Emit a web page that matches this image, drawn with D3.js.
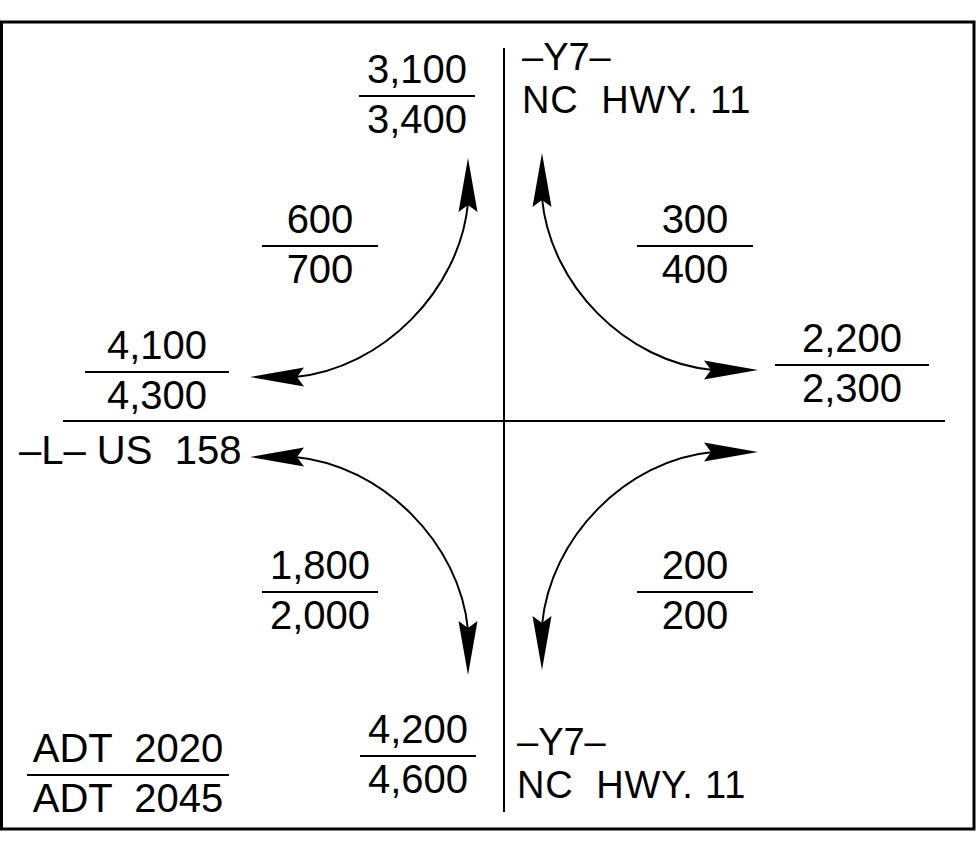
<!DOCTYPE html>
<html>
<head>
<meta charset="utf-8">
<script src="https://cdn.jsdelivr.net/npm/d3@7"></script>
<style>
  html, body { margin: 0; padding: 0; background: #fff; }
  svg { display: block; }
  text { font-family: "Liberation Sans", Arial, sans-serif; fill: #000; white-space: pre; }
</style>
</head>
<body>
<svg id="chart" width="980" height="846"></svg>
<script>
// ADT volumes on each leg: 2020 over 2045
const legs = ["N", "E", "S", "W"];
const leg2020 = [3100, 2200, 4200, 4100];
const leg2045 = [3400, 2300, 4600, 4300];

// turning movements between adjacent legs
const turns = ["NW", "NE", "SE", "SW"];
const turn2020 = [600, 300, 200, 1800];
const turn2045 = [700, 400, 200, 2000];

const roadLines = ["–Y7–", "NC  HWY. 11"];
const mainRoad = "–L– US  158";
const legendLines = ["ADT  2020", "ADT  2045"];

const fmt = d3.format(",");

const svg = d3.select("#chart");
const W = 980, H = 846;

// diagram units: intersection at 0,0, one unit per pixel
const x = d3.scaleLinear().domain([-504, 476]).range([0, W]);
const y = d3.scaleLinear().domain([-421, 425]).range([0, H]);

const FS = 40;
const FS_ROAD = 38;

// frame
svg.append("rect")
  .attr("x", x(-502.5)).attr("y", y(-399))
  .attr("width", x(470) - x(-502.5)).attr("height", y(408) - y(-399))
  .attr("fill", "none").attr("stroke", "#000").attr("stroke-width", 3);

// roads
svg.append("line")
  .attr("x1", x(-441)).attr("x2", x(441))
  .attr("y1", y(0)).attr("y2", y(0))
  .attr("stroke", "#000").attr("stroke-width", 2);
svg.append("line")
  .attr("x1", x(0)).attr("x2", x(0))
  .attr("y1", y(-373)).attr("y2", y(391))
  .attr("stroke", "#000").attr("stroke-width", 2);

// fraction label: value over value with a bar between
function fraction(cx, ly, top, bottom, half) {
  const g = svg.append("g");
  g.append("text").attr("x", x(cx)).attr("y", y(ly - 13))
    .attr("text-anchor", "middle").attr("font-size", FS).text(top);
  g.append("line")
    .attr("x1", x(cx - half)).attr("x2", x(cx + half))
    .attr("y1", y(ly)).attr("y2", y(ly))
    .attr("stroke", "#000").attr("stroke-width", 2);
  g.append("text").attr("x", x(cx)).attr("y", y(ly + 37))
    .attr("text-anchor", "middle").attr("font-size", FS).text(bottom);
}

// where each leg label sits (centre x, bar y, half bar width)
const legPos = {
  N: [-87, -325, 58],
  E: [348, -56, 77],
  S: [-86, 335, 58],
  W: [-347, -49, 72]
};
legs.forEach((k, i) => {
  const p = legPos[k];
  fraction(p[0], p[1], fmt(leg2020[i]), fmt(leg2045[i]), p[2]);
});

const turnPos = {
  NW: [-184, -175, 58],
  NE: [191, -175, 58],
  SE: [191, 171, 58],
  SW: [-184, 171, 58]
};
turns.forEach((k, i) => {
  const p = turnPos[k];
  fraction(p[0], p[1], fmt(turn2020[i]), fmt(turn2045[i]), p[2]);
});

// legend
fraction(-376, 354, legendLines[0], legendLines[1], 101);

// road names
[[18, -351, -308], [13, 334, 377]].forEach(([lx, b1, b2]) => {
  svg.append("text").attr("x", x(lx)).attr("y", y(b1))
    .attr("font-size", FS_ROAD).text(roadLines[0]);
  svg.append("text").attr("x", x(lx)).attr("y", y(b2))
    .attr("font-size", FS_ROAD).attr("letter-spacing", 0.8).text(roadLines[1]);
});
svg.append("text").attr("x", x(-485)).attr("y", y(43))
  .attr("font-size", FS).text(mainRoad);

// turning arrows, one per quadrant; u along the main road, v along Y7, both outward
const quad = {
  NW: { sx: -1, sy: -1, vOff: 36, vTip: 263, hTip: 254, hOff: 44 },
  NE: { sx: 1, sy: -1, vOff: 38, vTip: 268, hTip: 254, hOff: 51 },
  SE: { sx: 1, sy: 1, vOff: 38, vTip: 249, hTip: 254, hOff: 31 },
  SW: { sx: -1, sy: 1, vOff: 36, vTip: 254, hTip: 254, hOff: 36 }
};
const HEAD = 54, NOTCH = 47, HALF = 9.5;

function head(tx, ty, ang) {
  // tip at origin, pointing along +x before rotation
  const p = d3.path();
  p.moveTo(0, 0);
  p.lineTo(-HEAD, -HALF);
  p.lineTo(-NOTCH, 0);
  p.lineTo(-HEAD, HALF);
  p.closePath();
  svg.append("path").attr("d", p.toString())
    .attr("transform", `translate(${tx},${ty}) rotate(${ang})`)
    .attr("fill", "#000");
}

turns.forEach(k => {
  const q = quad[k];
  const P = (u, v) => [x(q.sx * u), y(q.sy * v)];
  const p0 = P(q.vOff, q.vTip - NOTCH + 2);
  const p1 = P(q.vOff + 8, q.vTip - NOTCH - 85);
  const p2 = P(q.hTip - NOTCH - 85, q.hOff + 8);
  const p3 = P(q.hTip - NOTCH + 2, q.hOff);
  const c = d3.path();
  c.moveTo(...p0);
  c.bezierCurveTo(...p1, ...p2, ...p3);
  svg.append("path").attr("d", c.toString())
    .attr("fill", "none").attr("stroke", "#000").attr("stroke-width", 2);
  const vt = P(q.vOff, q.vTip);
  head(vt[0], vt[1], q.sy < 0 ? -90 : 90);
  const ht = P(q.hTip, q.hOff);
  head(ht[0], ht[1], q.sx < 0 ? 180 : 0);
});
</script>
</body>
</html>
